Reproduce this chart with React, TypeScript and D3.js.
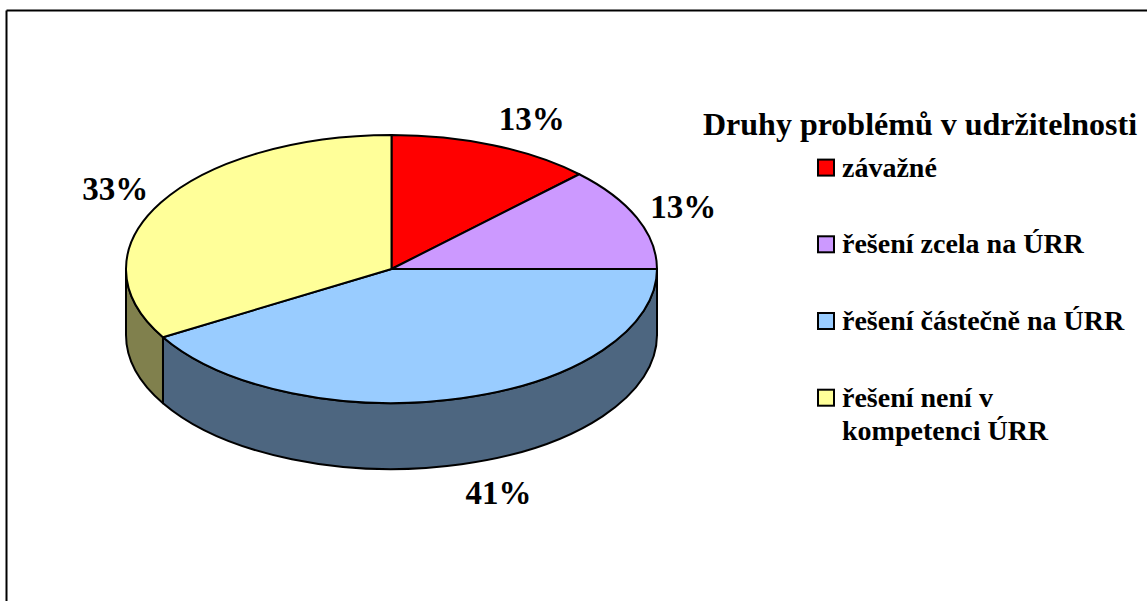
import React from "react";
import * as d3 from "d3";

// ---- data ----
const categories = [
  "závažné",
  "řešení zcela na ÚRR",
  "řešení částečně na ÚRR",
  "řešení není v kompetenci ÚRR",
];
const legendLines = [
  ["závažné"],
  ["řešení zcela na ÚRR"],
  ["řešení částečně na ÚRR"],
  ["řešení není v", "kompetenci ÚRR"],
];
const shares = [12.5, 12.5, 41.5, 33.5];
const pctLabels = ["13%", "13%", "41%", "33%"];
const topColors = ["#FF0000", "#CC99FF", "#99CCFF", "#FFFF99"];
const legendTitle = "Druhy problémů v udržitelnosti";

const W = 1147;
const H = 601;
const FONT = "'Liberation Serif', 'Times New Roman', serif";

export default function App() {
  const cx = 391.5;
  const cy = 269;
  const rx = 265.5;
  const ry = 134;
  const depth = 66;

  const pie = d3
    .pie<number>()
    .sort(null)
    .value((d) => d)
    .startAngle(0)
    .endAngle(2 * Math.PI);
  const arcs = pie(shares);

  const pt = (a: number, dy = 0) => [cx + rx * Math.sin(a), cy - ry * Math.cos(a) + dy];

  const topPath = (a0: number, a1: number) => {
    const [x0, y0] = pt(a0);
    const [x1, y1] = pt(a1);
    const large = a1 - a0 > Math.PI ? 1 : 0;
    return `M${cx},${cy}L${x0},${y0}A${rx},${ry} 0 ${large} 1 ${x1},${y1}Z`;
  };

  const wallPath = (a0: number, a1: number) => {
    const [x0, y0] = pt(a0);
    const [x1, y1] = pt(a1);
    const [x1b, y1b] = pt(a1, depth);
    const [x0b, y0b] = pt(a0, depth);
    const large = a1 - a0 > Math.PI ? 1 : 0;
    return `M${x0},${y0}A${rx},${ry} 0 ${large} 1 ${x1},${y1}L${x1b},${y1b}A${rx},${ry} 0 ${large} 0 ${x0b},${y0b}Z`;
  };

  const front0 = Math.PI / 2;
  const front1 = (3 * Math.PI) / 2;

  const walls = arcs
    .map((a, i) => {
      const s = Math.max(a.startAngle, front0);
      const e = Math.min(a.endAngle, front1);
      if (e <= s) return null;
      const col = d3.rgb(topColors[i]);
      const dark = d3.rgb(col.r * 0.5, col.g * 0.5, col.b * 0.5);
      return { d: wallPath(s, e), fill: dark.formatHex(), key: i };
    })
    .filter(Boolean) as { d: string; fill: string; key: number }[];

  const labelRx = rx + 14.5;
  const labelRy = ry + 29;
  const labels = arcs.map((a) => {
    const m = (a.startAngle + a.endAngle) / 2;
    const s = Math.sin(m);
    const c = Math.cos(m);
    const x = cx + labelRx * s;
    let y = cy - labelRy * c;
    if (c < 0) y += depth;
    return { x, y, anchor: s >= 0 ? "start" : "end" };
  });

  const legX = 818;
  const legY0 = 167.6;
  const legStep = 76.7;
  const box = 16;

  return (
    <svg
      width={W}
      height={H}
      style={{ position: "absolute", left: 0, top: 0, display: "block", background: "#fff" }}
    >
      <rect x={0} y={0} width={W} height={H} fill="#fff" />
      <line x1={6.5} y1={10.5} x2={W} y2={10.5} stroke="#000" strokeWidth={2} />
      <line x1={6.5} y1={10.5} x2={6.5} y2={H} stroke="#000" strokeWidth={2} />

      <g stroke="#000" strokeWidth={2} strokeLinejoin="round">
        {walls.map((w) => (
          <path key={`w${w.key}`} d={w.d} fill={w.fill} />
        ))}
        {arcs.map((a, i) => (
          <path key={`t${i}`} d={topPath(a.startAngle, a.endAngle)} fill={topColors[i]} />
        ))}
      </g>

      <g fontFamily={FONT} fontWeight="bold" fontSize={33} fill="#000">
        {labels.map((l, i) => (
          <text key={`l${i}`} x={l.x} y={l.y} textAnchor={l.anchor} dy="0.35em">
            {pctLabels[i]}
          </text>
        ))}
      </g>

      <g fontFamily={FONT} fontWeight="bold" fill="#000">
        <text x={703} y={135} fontSize={32}>
          {legendTitle}
        </text>
        {categories.map((c, i) => {
          const yc = legY0 + i * legStep;
          return (
            <g key={`lg${i}`}>
              <rect
                x={legX}
                y={yc - box / 2}
                width={box}
                height={box}
                fill={topColors[i]}
                stroke="#000"
                strokeWidth={2}
              />
              <text x={legX + 24} y={yc + 9} fontSize={28}>
                {legendLines[i].map((ln, j) => (
                  <tspan key={j} x={legX + 24} dy={j === 0 ? 0 : 33}>
                    {ln}
                  </tspan>
                ))}
              </text>
            </g>
          );
        })}
      </g>
    </svg>
  );
}
